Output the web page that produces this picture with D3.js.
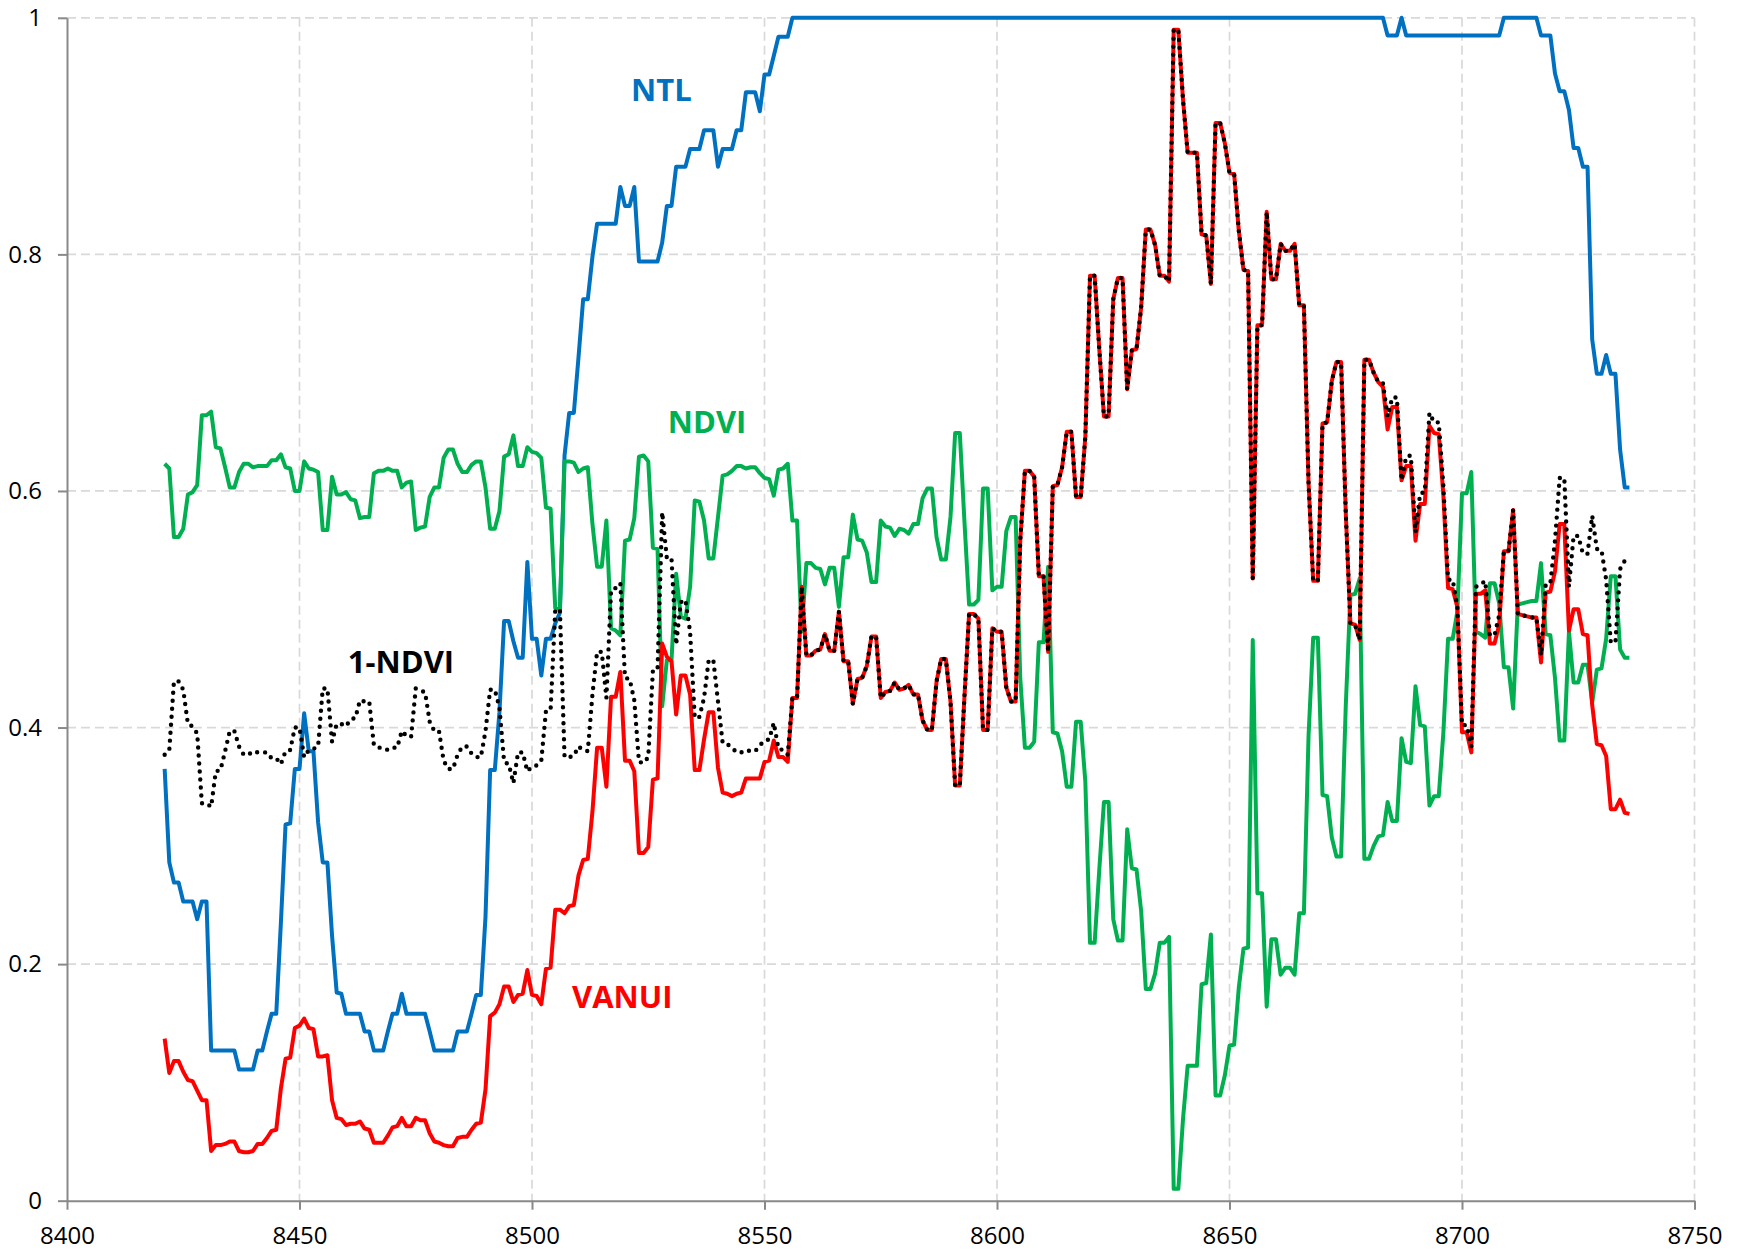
<!DOCTYPE html>
<html>
<head>
<meta charset="utf-8">
<script src="https://cdn.jsdelivr.net/npm/d3@7"></script>
<style>
  html, body { margin: 0; padding: 0; background: #fff; }
  text { font-family: "Open Sans", "Liberation Sans", sans-serif; }
</style>
</head>
<body>
<div id="chart-container"></div>
<script>
// day index of the first sample, one sample per day
const startDay = 8421
const xTicks = [8400, 8450, 8500, 8550, 8600, 8650, 8700, 8750]
const yTicks = [0, 0.2, 0.4, 0.6, 0.8, 1]
const yTickLabels = ['0', '0.2', '0.4', '0.6', '0.8', '1']

const ntl = [
  0.365,0.286,0.269,0.269,0.253,0.253,0.253,0.238,0.253,0.253,
  0.127,0.127,0.127,0.127,0.127,0.127,0.111,0.111,0.111,0.111,
  0.127,0.127,0.143,0.158,0.158,0.235,0.318,0.319,0.365,0.365,
  0.412,0.38,0.38,0.32,0.286,0.286,0.224,0.176,0.175,0.158,
  0.158,0.158,0.158,0.143,0.143,0.127,0.127,0.127,0.143,0.158,
  0.158,0.175,0.158,0.158,0.158,0.158,0.158,0.143,0.127,0.127,
  0.127,0.127,0.127,0.143,0.143,0.143,0.158,0.174,0.174,0.24,
  0.364,0.364,0.413,0.49,0.49,0.473,0.459,0.459,0.54,0.475,
  0.475,0.444,0.475,0.475,0.488,0.497,0.63,0.666,0.666,0.713,
  0.762,0.762,0.798,0.826,0.826,0.826,0.826,0.826,0.857,0.841,
  0.841,0.857,0.794,0.794,0.794,0.794,0.794,0.81,0.841,0.841,
  0.874,0.874,0.874,0.889,0.889,0.889,0.905,0.905,0.905,0.874,
  0.889,0.889,0.889,0.905,0.905,0.937,0.937,0.937,0.921,0.952,
  0.952,0.968,0.984,0.984,0.984,1,1,1,1,1,
  1,1,1,1,1,1,1,1,1,1,
  1,1,1,1,1,1,1,1,1,1,
  1,1,1,1,1,1,1,1,1,1,
  1,1,1,1,1,1,1,1,1,1,
  1,1,1,1,1,1,1,1,1,1,
  1,1,1,1,1,1,1,1,1,1,
  1,1,1,1,1,1,1,1,1,1,
  1,1,1,1,1,1,1,1,1,1,
  1,1,1,1,1,1,1,1,1,1,
  1,1,1,1,1,1,1,1,1,1,
  1,1,1,1,1,1,1,1,1,1,
  1,1,1,1,1,1,1,1,1,1,
  1,1,1,0.985,0.985,0.985,1,0.985,0.985,0.985,
  0.985,0.985,0.985,0.985,0.985,0.985,0.985,0.985,0.985,0.985,
  0.985,0.985,0.985,0.985,0.985,0.985,0.985,0.985,1,1,
  1,1,1,1,1,1,0.985,0.985,0.985,0.953,
  0.938,0.938,0.922,0.89,0.89,0.874,0.874,0.728,0.699,0.699,
  0.715,0.699,0.699,0.635,0.603,0.603
]

const ndvi = [
  0.623,0.619,0.561,0.561,0.568,0.597,0.599,0.605,0.664,0.664,
  0.667,0.637,0.636,0.62,0.603,0.603,0.616,0.623,0.623,0.62,
  0.621,0.621,0.621,0.626,0.626,0.631,0.62,0.619,0.6,0.6,
  0.625,0.619,0.618,0.616,0.567,0.567,0.612,0.597,0.597,0.599,
  0.593,0.592,0.577,0.578,0.578,0.615,0.617,0.617,0.619,0.617,
  0.617,0.603,0.607,0.608,0.567,0.569,0.57,0.595,0.603,0.603,
  0.628,0.635,0.635,0.623,0.616,0.616,0.622,0.625,0.625,0.603,
  0.568,0.568,0.583,0.629,0.631,0.647,0.621,0.621,0.637,0.633,
  0.632,0.628,0.586,0.585,0.501,0.5,0.625,0.625,0.624,0.616,
  0.619,0.62,0.572,0.536,0.536,0.575,0.484,0.482,0.478,0.558,
  0.559,0.577,0.629,0.63,0.625,0.552,0.551,0.418,0.457,0.457,
  0.53,0.494,0.492,0.519,0.592,0.591,0.575,0.543,0.543,0.578,
  0.613,0.614,0.617,0.621,0.621,0.619,0.62,0.62,0.615,0.611,
  0.61,0.596,0.618,0.619,0.623,0.575,0.575,0.481,0.539,0.539,
  0.535,0.534,0.521,0.535,0.535,0.502,0.544,0.544,0.58,0.559,
  0.558,0.548,0.523,0.523,0.575,0.57,0.569,0.562,0.568,0.567,
  0.564,0.572,0.572,0.594,0.602,0.602,0.561,0.542,0.542,0.578,
  0.649,0.649,0.574,0.504,0.504,0.508,0.602,0.602,0.516,0.519,
  0.519,0.566,0.578,0.578,0.442,0.383,0.383,0.388,0.472,0.472,
  0.536,0.396,0.395,0.38,0.35,0.35,0.405,0.405,0.354,0.218,
  0.218,0.28,0.337,0.337,0.238,0.22,0.22,0.314,0.281,0.28,
  0.245,0.179,0.179,0.192,0.218,0.218,0.223,0.01,0.01,0.069,
  0.114,0.114,0.114,0.183,0.184,0.225,0.089,0.089,0.106,0.131,
  0.132,0.18,0.213,0.214,0.474,0.26,0.26,0.164,0.221,0.221,
  0.191,0.197,0.197,0.191,0.243,0.243,0.393,0.476,0.476,0.343,
  0.342,0.307,0.291,0.291,0.418,0.512,0.513,0.526,0.289,0.289,
  0.3,0.308,0.309,0.337,0.321,0.321,0.391,0.371,0.37,0.435,
  0.402,0.401,0.334,0.342,0.342,0.396,0.475,0.475,0.498,0.598,
  0.598,0.616,0.481,0.479,0.476,0.522,0.522,0.505,0.451,0.451,
  0.416,0.504,0.505,0.506,0.507,0.507,0.539,0.479,0.478,0.442,
  0.389,0.389,0.481,0.438,0.438,0.453,0.453,0.421,0.449,0.45,
  0.475,0.528,0.528,0.466,0.459,0.459
]

const oneMinusNdvi = [
  0.377,0.381,0.439,0.439,0.432,0.403,0.401,0.395,0.336,0.336,
  0.333,0.363,0.364,0.38,0.397,0.397,0.384,0.377,0.377,0.38,
  0.379,0.379,0.379,0.374,0.374,0.369,0.38,0.381,0.4,0.4,
  0.375,0.381,0.382,0.384,0.433,0.433,0.388,0.403,0.403,0.401,
  0.407,0.408,0.423,0.422,0.422,0.385,0.383,0.383,0.381,0.383,
  0.383,0.397,0.393,0.392,0.433,0.431,0.43,0.405,0.397,0.397,
  0.372,0.365,0.365,0.377,0.384,0.384,0.378,0.375,0.375,0.397,
  0.432,0.432,0.417,0.371,0.369,0.353,0.379,0.379,0.363,0.367,
  0.368,0.372,0.414,0.415,0.499,0.5,0.375,0.375,0.376,0.384,
  0.381,0.38,0.428,0.464,0.464,0.425,0.516,0.518,0.522,0.442,
  0.441,0.423,0.371,0.37,0.375,0.448,0.449,0.582,0.543,0.543,
  0.47,0.506,0.508,0.481,0.408,0.409,0.425,0.457,0.457,0.422,
  0.387,0.386,0.383,0.379,0.379,0.381,0.38,0.38,0.385,0.389,
  0.39,0.404,0.382,0.381,0.377,0.425,0.425,0.519,0.461,0.461,
  0.465,0.466,0.479,0.465,0.465,0.498,0.456,0.456,0.42,0.441,
  0.442,0.452,0.477,0.477,0.425,0.43,0.431,0.438,0.432,0.433,
  0.436,0.428,0.428,0.406,0.398,0.398,0.439,0.458,0.458,0.422,
  0.351,0.351,0.426,0.496,0.496,0.492,0.398,0.398,0.484,0.481,
  0.481,0.434,0.422,0.422,0.558,0.617,0.617,0.612,0.528,0.528,
  0.464,0.604,0.605,0.62,0.65,0.65,0.595,0.595,0.646,0.782,
  0.782,0.72,0.663,0.663,0.762,0.78,0.78,0.686,0.719,0.72,
  0.755,0.821,0.821,0.808,0.782,0.782,0.777,0.99,0.99,0.931,
  0.886,0.886,0.886,0.817,0.816,0.775,0.911,0.911,0.894,0.869,
  0.868,0.82,0.787,0.786,0.526,0.74,0.74,0.836,0.779,0.779,
  0.809,0.803,0.803,0.809,0.757,0.757,0.607,0.524,0.524,0.657,
  0.658,0.693,0.709,0.709,0.582,0.488,0.487,0.474,0.711,0.711,
  0.7,0.692,0.691,0.663,0.679,0.679,0.609,0.629,0.63,0.565,
  0.598,0.599,0.666,0.658,0.658,0.604,0.525,0.525,0.502,0.402,
  0.402,0.384,0.519,0.521,0.524,0.478,0.478,0.495,0.549,0.549,
  0.584,0.496,0.495,0.494,0.493,0.493,0.461,0.521,0.522,0.558,
  0.611,0.611,0.519,0.562,0.562,0.547,0.547,0.579,0.551,0.55,
  0.525,0.472,0.472,0.534,0.541,0.541
]

const vanui = [
  0.137,0.108,0.118,0.118,0.109,0.102,0.101,0.093,0.085,0.085,
  0.042,0.047,0.047,0.048,0.05,0.05,0.042,0.041,0.041,0.042,
  0.048,0.048,0.053,0.059,0.06,0.095,0.12,0.121,0.146,0.148,
  0.154,0.146,0.145,0.122,0.122,0.123,0.085,0.07,0.069,0.064,
  0.065,0.065,0.067,0.061,0.06,0.049,0.049,0.049,0.055,0.062,
  0.063,0.07,0.063,0.063,0.07,0.068,0.068,0.057,0.05,0.049,
  0.047,0.046,0.046,0.053,0.054,0.054,0.06,0.065,0.066,0.094,
  0.156,0.159,0.166,0.181,0.181,0.168,0.174,0.175,0.195,0.174,
  0.173,0.166,0.196,0.197,0.246,0.246,0.243,0.249,0.25,0.275,
  0.288,0.289,0.329,0.383,0.383,0.35,0.426,0.426,0.447,0.372,
  0.372,0.363,0.294,0.294,0.299,0.356,0.357,0.471,0.46,0.456,
  0.411,0.444,0.444,0.428,0.364,0.364,0.39,0.413,0.413,0.366,
  0.345,0.344,0.342,0.344,0.345,0.357,0.357,0.357,0.357,0.371,
  0.372,0.389,0.375,0.375,0.371,0.425,0.425,0.519,0.461,0.461,
  0.465,0.466,0.479,0.465,0.465,0.498,0.456,0.456,0.42,0.441,
  0.442,0.452,0.477,0.477,0.425,0.43,0.431,0.438,0.432,0.433,
  0.436,0.428,0.428,0.406,0.398,0.398,0.439,0.458,0.458,0.422,
  0.351,0.351,0.426,0.496,0.496,0.492,0.398,0.398,0.484,0.481,
  0.481,0.434,0.422,0.422,0.558,0.617,0.617,0.612,0.528,0.528,
  0.464,0.604,0.605,0.62,0.65,0.65,0.595,0.595,0.646,0.782,
  0.782,0.72,0.663,0.663,0.762,0.78,0.78,0.686,0.719,0.72,
  0.755,0.821,0.821,0.808,0.782,0.782,0.777,0.99,0.99,0.931,
  0.886,0.886,0.886,0.817,0.816,0.775,0.911,0.911,0.894,0.869,
  0.868,0.82,0.787,0.786,0.526,0.74,0.74,0.836,0.779,0.779,
  0.809,0.803,0.803,0.809,0.757,0.757,0.607,0.524,0.524,0.657,
  0.658,0.693,0.709,0.709,0.582,0.488,0.487,0.474,0.711,0.711,
  0.7,0.692,0.688,0.652,0.671,0.671,0.609,0.621,0.621,0.558,
  0.589,0.589,0.655,0.649,0.648,0.596,0.518,0.517,0.502,0.396,
  0.396,0.379,0.513,0.513,0.516,0.471,0.471,0.487,0.549,0.549,
  0.584,0.496,0.495,0.494,0.493,0.493,0.455,0.514,0.515,0.532,
  0.572,0.572,0.482,0.5,0.5,0.479,0.478,0.419,0.386,0.385,
  0.376,0.331,0.331,0.339,0.328,0.327
]

const seriesNames = ['NTL', 'NDVI', '1-NDVI', 'VANUI']
const seriesColors = ['#0070C0', '#00B050', '#000000', '#FF0000']
// label anchor (left end of baseline), in data units
const labelAnchors = [[8521.3, 0.93], [8529.2, 0.649], [8460.4, 0.446], [8508.6, 0.163]]

function draw () {
  const width = 1748
  const height = 1255
  const marginTop = 17.8
  const marginRight = 53.5
  const marginBottom = 54.3
  const marginLeft = 67

  const svg = d3.select('#chart-container')
    .append('svg')
    .attr('width', width)
    .attr('height', height)
    .style('background-color', '#ffffff')

  const xScale = d3.scaleLinear()
    .domain([8400, 8750])
    .range([marginLeft, width - marginRight])
  const yScale = d3.scaleLinear()
    .domain([0, 1])
    .range([height - marginBottom, marginTop])

  // dashed grid
  svg.append('g')
    .selectAll('line')
    .data(yTicks.filter(d => d > 0))
    .enter()
    .append('line')
    .attr('x1', marginLeft)
    .attr('x2', width - marginRight)
    .attr('y1', d => yScale(d))
    .attr('y2', d => yScale(d))
    .attr('stroke', '#D9D9D9')
    .attr('stroke-width', 1.7)
    .attr('stroke-dasharray', '9,5')
  svg.append('g')
    .selectAll('line')
    .data(xTicks.filter(d => d > 8400))
    .enter()
    .append('line')
    .attr('x1', d => xScale(d))
    .attr('x2', d => xScale(d))
    .attr('y1', marginTop)
    .attr('y2', height - marginBottom)
    .attr('stroke', '#D9D9D9')
    .attr('stroke-width', 1.7)
    .attr('stroke-dasharray', '9,5')

  const xAxis = d3.axisBottom(xScale)
    .tickValues(xTicks)
    .tickFormat(d3.format('d'))
    .tickSize(9)
    .tickSizeOuter(0)
    .tickPadding(17)
  const gx = svg.append('g')
    .attr('transform', 'translate(0,' + (height - marginBottom) + ')')
    .call(xAxis)

  const yAxis = d3.axisLeft(yScale)
    .tickValues(yTicks)
    .tickFormat((d, i) => yTickLabels[i])
    .tickSize(9)
    .tickSizeOuter(0)
    .tickPadding(16)
  const gy = svg.append('g')
    .attr('transform', 'translate(' + marginLeft + ',0)')
    .call(yAxis)

  for (const g of [gx, gy]) {
    g.selectAll('path, line').attr('stroke', '#898989').attr('stroke-width', 2)
    g.selectAll('text')
      .attr('font-size', 24)
      .attr('fill', '#000')
      .style('font-family', '"Open Sans", sans-serif')
  }

  const line = d3.line()
    .x((d, i) => xScale(startDay + i))
    .y(d => yScale(d))

  svg.append('path').datum(ntl)
    .attr('d', line).attr('fill', 'none')
    .attr('stroke', seriesColors[0]).attr('stroke-width', 4)
    .attr('stroke-linejoin', 'round')
  svg.append('path').datum(ndvi)
    .attr('d', line).attr('fill', 'none')
    .attr('stroke', seriesColors[1]).attr('stroke-width', 4)
    .attr('stroke-linejoin', 'round')
  svg.append('path').datum(vanui)
    .attr('d', line).attr('fill', 'none')
    .attr('stroke', seriesColors[3]).attr('stroke-width', 4)
    .attr('stroke-linejoin', 'round')
  svg.append('path').datum(oneMinusNdvi)
    .attr('d', line).attr('fill', 'none')
    .attr('stroke', seriesColors[2]).attr('stroke-width', 4.4)
    .attr('stroke-linecap', 'round')
    .attr('stroke-dasharray', '0,8')

  svg.selectAll('.series-label')
    .data(seriesNames)
    .enter()
    .append('text')
    .attr('class', 'series-label')
    .attr('x', (d, i) => xScale(labelAnchors[i][0]))
    .attr('y', (d, i) => yScale(labelAnchors[i][1]))
    .attr('fill', (d, i) => seriesColors[i])
    .attr('font-size', 31)
    .attr('font-weight', 'bold')
    .text(d => d)
}
draw()
</script>
</body>
</html>
